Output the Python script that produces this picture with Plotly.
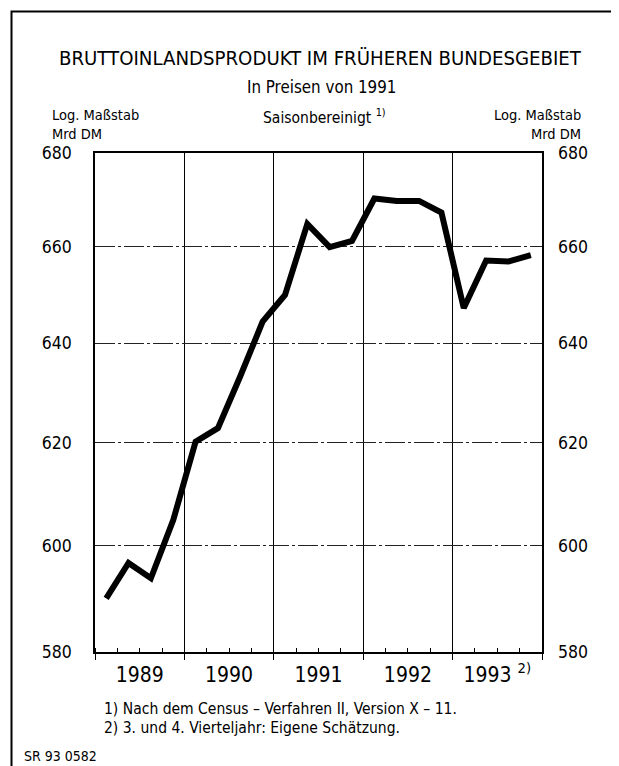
import math
import plotly.graph_objects as go

# ---- data ----
years = [1989, 1989, 1989, 1989, 1990, 1990, 1990, 1990, 1991, 1991, 1991, 1991,
         1992, 1992, 1992, 1992, 1993, 1993, 1993, 1993]
quarter = [1, 2, 3, 4] * 5
gdp = [590.0, 596.7, 593.8, 604.9, 620.2, 622.9, 633.3, 644.4, 649.9, 664.8,
       659.9, 661.2, 670.2, 669.7, 669.7, 667.2, 647.2, 657.1, 656.9, 658.2]
year_ticks = [1989, 1990, 1991, 1992, 1993]
year_labels = ["1989", "1990", "1991", "1992", "1993 <sup>2)</sup>"]
y_ticks = [580, 600, 620, 640, 660, 680]

xq = [y + (q - 0.5) / 4 for y, q in zip(years, quarter)]

FONT = "DejaVu Sans Condensed, Liberation Sans, sans-serif"
OFF = 8  # page body margin
W, H = 619 - OFF, 766 - OFF
L, R, T, B = 95 - OFF, 542 - OFF, 153 - OFF, 652 - OFF


def px(x):
    return (x - OFF - L) / (R - L)


def py(y):
    return (B - (y - OFF)) / (B - T)


fig = go.Figure()
fig.add_trace(go.Scatter(x=xq, y=gdp, mode="lines",
                         line=dict(color="black", width=6),
                         showlegend=False, hoverinfo="skip"))
fig.add_trace(go.Scatter(x=xq, y=gdp, mode="lines", xaxis="x2", yaxis="y2",
                         line=dict(color="rgba(0,0,0,0)", width=0),
                         showlegend=False, hoverinfo="skip"))

yr = [math.log10(580), math.log10(680)]
xr = [1989, 1994]

fig.update_layout(
    width=W, height=H,
    margin=dict(l=L, r=W - R, t=T, b=H - B),
    paper_bgcolor="white", plot_bgcolor="white",
    font=dict(family=FONT, color="black"),
    xaxis=dict(range=xr, tickmode="array", tickvals=[1989, 1990, 1991, 1992, 1993, 1994],
               showticklabels=False, showgrid=True, gridcolor="black", gridwidth=1,
               ticks="outside", ticklen=6, tickcolor="black",
               showline=True, mirror=True, linecolor="black", linewidth=1.5,
               zeroline=False,
               minor=dict(dtick=0.25, tick0=1989, ticks="inside", ticklen=4,
                          tickcolor="black", showgrid=False)),
    xaxis2=dict(range=xr, overlaying="x", anchor="y", side="bottom",
                tickmode="array", tickvals=[y + 0.5 for y in year_ticks],
                ticktext=year_labels, ticks="", showgrid=False, showline=False,
                zeroline=False, ticklabelstandoff=8,
                tickfont=dict(size=21, family=FONT)),
    yaxis=dict(type="log", range=yr, tickmode="array", tickvals=y_ticks,
               ticktext=[str(v) for v in y_ticks], showgrid=True,
               gridcolor="#222222", gridwidth=1, griddash="20px,3px,3px,3px",
               ticks="", ticklabelstandoff=18, tickfont=dict(size=17.5),
               showline=True, mirror=True, linecolor="black", linewidth=1.5,
               zeroline=False),
    yaxis2=dict(type="log", range=yr, overlaying="y", side="right", anchor="x",
                tickmode="array", tickvals=y_ticks, ticktext=[str(v) for v in y_ticks],
                showgrid=False, ticks="", ticklabelstandoff=15,
                tickfont=dict(size=17.5), showline=False, zeroline=False),
)

ann = []


def text(x, y, s, size, xanchor="center", yanchor="middle"):
    ann.append(dict(x=px(x), y=py(y), xref="paper", yref="paper", text=s,
                    showarrow=False, xanchor=xanchor, yanchor=yanchor,
                    font=dict(size=size, family=FONT, color="black")))


text(320.5, 57.5, "BRUTTOINLANDSPRODUKT IM FRÜHEREN BUNDESGEBIET", 20.2)
text(321, 87, "In Preisen von 1991", 16.8)
text(324, 117, "Saisonbereinigt <sup>1)</sup>", 15.5)
text(50, 114.5, "Log. Maßstab", 14.5, xanchor="left")
text(50, 134, "Mrd DM", 14.5, xanchor="left")
text(583, 114.5, "Log. Maßstab", 14.5, xanchor="right")
text(583, 134, "Mrd DM", 14.5, xanchor="right")
text(101.5, 709, "1) Nach dem Census – Verfahren II, Version X – 11.", 15.5, xanchor="left")
text(101.5, 728, "2) 3. und 4. Vierteljahr: Eigene Schätzung.", 15.5, xanchor="left")
text(21.5, 756, "SR 93 0582", 14, xanchor="left")

fig.update_layout(annotations=ann)

fig.add_shape(type="rect", xref="paper", yref="paper",
              x0=px(11.5), x1=px(617), y0=py(790), y1=py(11.5),
              line=dict(color="black", width=2), fillcolor="rgba(0,0,0,0)", layer="above")

fig.write_html("out.html")
